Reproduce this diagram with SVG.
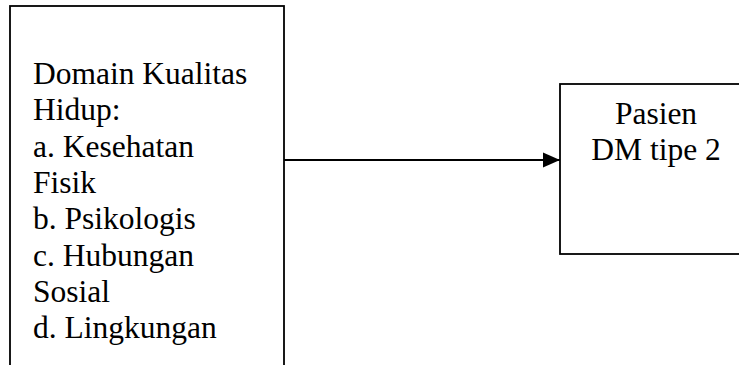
<svg xmlns="http://www.w3.org/2000/svg" width="739" height="365" viewBox="0 0 739 365">
<style>
.box{fill:#fff;stroke:#000;stroke-width:1.8}
.t{font-family:"Liberation Serif","Times New Roman",serif;font-size:31.5px;fill:#000}
.c{stroke:#000;stroke-width:1.8;fill:none}
</style>
<defs>
<marker id="ah" markerUnits="userSpaceOnUse" markerWidth="18" markerHeight="16" refX="17" refY="8" orient="auto">
<path d="M0,0.5 L17,8 L0,15.5 Z" fill="#000"/>
</marker>
</defs>
<rect width="739" height="365" fill="#fff"/>
<g id="domain">
<rect class="box" x="10" y="6" width="274" height="380"/>
<text class="t" x="33"><tspan x="33" y="84">Domain Kualitas</tspan><tspan x="33" y="120">Hidup:</tspan><tspan x="33" y="157">a. Kesehatan</tspan><tspan x="33" y="193">Fisik</tspan><tspan x="33" y="229">b. Psikologis</tspan><tspan x="33" y="266">c. Hubungan</tspan><tspan x="33" y="302">Sosial</tspan><tspan x="33" y="338">d. Lingkungan</tspan></text>
</g>
<g id="pasien">
<rect class="box" x="560" y="84" width="190" height="170"/>
<text class="t" text-anchor="middle"><tspan x="656" y="124">Pasien</tspan><tspan x="656" y="160">DM tipe 2</tspan></text>
</g>
<g id="connectors">
<line class="c" x1="284" y1="160" x2="560" y2="160" marker-end="url(#ah)"/>
</g>
</svg>
